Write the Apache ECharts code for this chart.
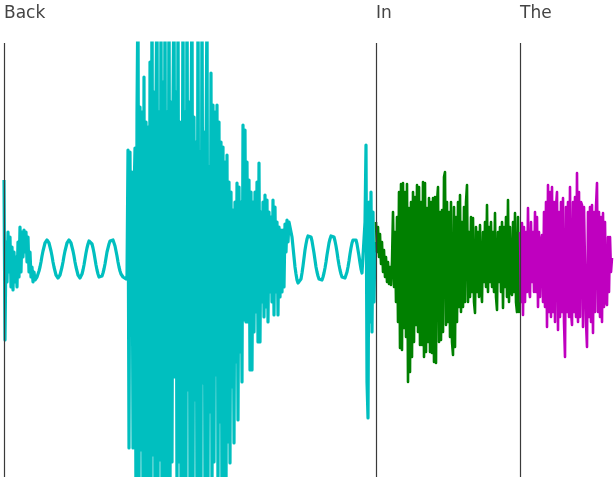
<!DOCTYPE html>
<html>
<head>
<meta charset="utf-8">
<script src="https://cdn.jsdelivr.net/npm/echarts/dist/echarts.min.js"></script>
<style>
  html, body { margin: 0; padding: 0; background: #fff; }
  #chart { width: 615px; height: 477px; }
</style>
</head>
<body>
<div id="chart"></div>
<script>
// Word segments of the recording and the sample index where each word begins
const words = ['Back', 'In', 'The'];
const wordStarts = [4, 376, 520];

// Waveform amplitude per sample, one array per word
const backSamples = [
  82, -78, 20, -20, 30, -10, 25, -25, 15, -28,
  10, -20, 5, -25, 20, -15, 35, -10, 30, 5,
  32, 10, 30, 0, 25, -10, 10, -15, -5, -20,
  -10, -18,
  -16, -15, -13, -9, -5, 0, 6, 11, 15, 19,
  21, 22, 21, 19, 15, 11, 6, 0, -5, -9,
  -13, -15, -16, -15, -13, -9, -5, 0, 6, 11,
  15, 19, 21, 22, 21, 19, 15, 11, 6, 0,
  -5, -9, -13, -15, -16, -15, -12, -8, -3, 3,
  9, 14, 18, 21, 22, 21, 18, 14, 9, 3,
  -3, -8, -12, -15, -16, -16, -14, -11, -7, -2,
  4, 10, 14, 18, 21, 22, 23, 22, 20, 16,
  11, 6, 0, -5, -9, -12, -14, -15, -16, -16,
  -17, -14,
  112, -186, 110, -50, 90, -186, 65, 114, -260, 150,
  280, -240, 155, -188, 150, -250, 185, -260, 140, -230,
  135, -270, 200, -250, 300, -193, 170, -270, 160, 290,
  -250, 150, -198, 270, -260, 180, -240, 300, -280, 150,
  -230, 310, -250, 160, -200, 155, 290, -115, 170, -240,
  280, -200, 140, -230, -83, 290, -250, 150, -220, 300,
  -128, 160, -250, 130, 280, -240, 145, -138, 120, -260,
  300, -230, 110, -240, 290, -121, 130, -250, 100, 270,
  -230, 95, -150, 189, -240, 157, -200, 150, -113, 157,
  -240, 140, -160, 120, -260, 115, -270, 100, -240, 107,
  -180, 80, -201, 70, -125, 52, -181, 60, -100, 79,
  -158, 75, -90, 60, -120, 137, -58, 132, -60, 100,
  -60, 82, -108, 70, -108, 60, -70, 70, -50, 80,
  -80, 99, -80, 50, -40, 60, -55, 67, -45, 62,
  -60, 50, -30, 45, -40, 62, -53, 55, -30, 40,
  -53, 35, -35, 32, -30, 32, -25, 38,
  10, 42, 20, 40, 40, 30, 25, 15, 5, -5,
  -12, -18, -21, -22, -21, -17, -11, -4, 4, 12,
  18, 23, 26, 27, 27, 25, 21, 15, 9, 2,
  -5, -10, -14, -17, -18, -18, -18, -15, -11, -6,
  0, 7, 13, 19, 23, 26, 27, 27, 25, 21,
  16, 10, 3, -3, -8, -12, -15, -16, -17, -16,
  -14, -10, -5, 1, 8, 14, 19, 22, 24, 24,
  22, 18, 12, 6, -1, -7, -11, -13, -10, 40,
  117, -120, -156, 60, -60, 70, -70, 50, -40, 20
];

const inSamples = [
  40, 10, 35, 5, 28, -2, 20, -10, 12, -15,
  5, -20, 0, -22, -5, -23, 0, 50, -25, 30,
  -40, 45, -60, 70, -86, 78, -88, 79, -66, 70,
  -75, 78, -120, 54, -110, 60, -95, 70, -80, 65,
  -63, 77, -70, 75, -83, 60, -83, 80, -95, 79,
  -90, 54, -80, 64, -90, 60, -91, 64, -100, 65,
  -101, 60, 75, -80, 50, -78, 52, -70, 85, 90,
  -63, 60, -60, 50, -75, 60, -80, -93, 55, -85,
  45, -60, 60, -45, 67, -50, 40, -45, 55, -40,
  60, 77, -40, 30, -35, 45, -30, 44, -40, -51,
  35, -30, 30, -35, 37, -25, -40, 30, -20, 40,
  -25, 57, -30, 35, -20, 40, -25, 30, -30, 49,
  -35, -48, 30, -20, 35, -30, 40, -46, 35, -25,
  45, -35, 62, -40, 35, -30, -33, 40, -30, 49,
  -40, -50, 45, -50, 30
];

const theSamples = [
  30, -40, 39, -53, 35, -40, 30, -30, 54, -25,
  -35, 40, -20, 30, -30, 50, -30, 45, -45, 30,
  -35, 20, 27, -40, 50, -45, 60, -65, 77, -50,
  70, -55, 75, -50, 60, -60, 55, 70, -68, 50,
  -55, 60, -50, 64, -60, -95, 55, -50, 60, -55,
  75, -50, -63, 60, -50, 65, -55, 89, -60, 70,
  -55, 60, 57, -65, 55, 57, -60, -85, 50, -55,
  55, -60, 57, -71, 50, -50, 55, 79, -50, 50,
  -55, 45, -60, 49, -45, 40, -40, -43, 25, -30,
  25, -10, 4
];

const segments = [backSamples, inSamples, theSamples];
const segmentColors = ['#00bfbf', '#008000', '#bf00bf'];
const segmentWidths = [3.2, 2.6, 2.6];

const chart = echarts.init(document.getElementById('chart'), null, { renderer: 'canvas' });

const waveSeries = segments.map((samples, i) => ({
  name: words[i],
  type: 'line',
  data: samples.map((v, k) => [wordStarts[i] + k, v]),
  showSymbol: false,
  symbol: 'none',
  clip: true,
  lineStyle: { color: segmentColors[i], width: segmentWidths[i], join: 'round' },
  z: 2
}));

// Word boundary markers
waveSeries.push({
  type: 'line',
  data: [],
  z: 10,
  markLine: {
    silent: true,
    symbol: ['none', 'none'],
    label: { show: false },
    lineStyle: { color: '#3a3a3a', width: 1.2, type: 'solid' },
    data: wordStarts.map(s => ({ xAxis: s }))
  }
});

chart.setOption({
  animation: false,
  backgroundColor: '#fff',
  grid: { left: 0, right: 0, top: 43, bottom: 0 },
  xAxis: { type: 'value', min: 0, max: 615, show: false },
  yAxis: { type: 'value', min: -215, max: 219, show: false },
  series: waveSeries
});

// Word names above each boundary
chart.setOption({
  graphic: words.map((w, i) => ({
    type: 'text',
    x: chart.convertToPixel({ xAxisIndex: 0 }, wordStarts[i]),
    y: 5,
    style: { text: w, font: '17px "DejaVu Sans"', fill: '#444' }
  }))
});
</script>
</body>
</html>
